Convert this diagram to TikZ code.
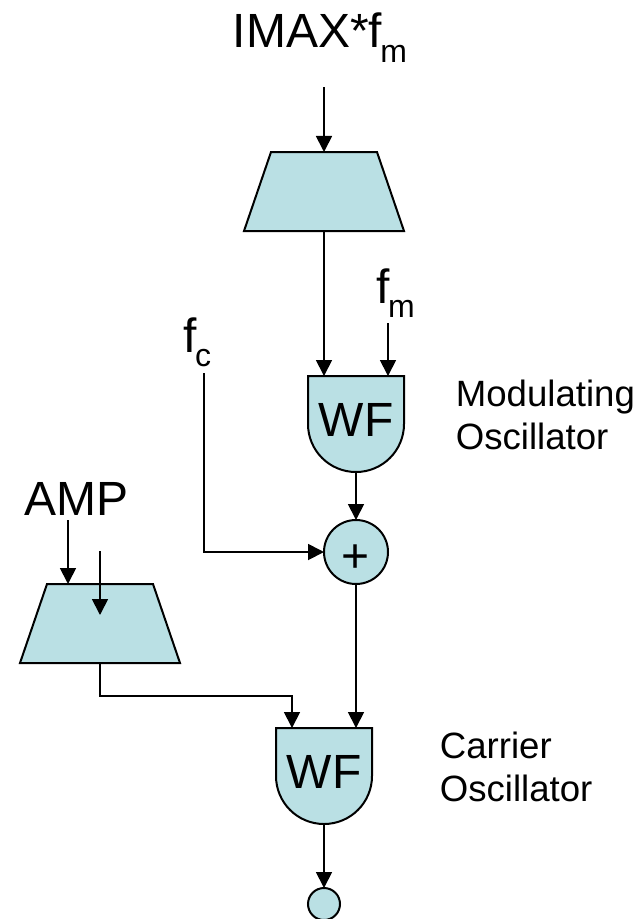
\documentclass[tikz,border=0pt]{standalone}
\usepackage{fontspec}
\setmainfont{Liberation Sans}
\usetikzlibrary{positioning,arrows.meta,shapes.geometric,backgrounds}
\definecolor{unitblue}{HTML}{BAE0E4}
\newcommand{\lowm}[2]{\kern-2pt\raisebox{#1}{\fontsize{32}{32}\selectfont #2}}

\begin{document}
\begin{tikzpicture}
[x=1pt,y=-1pt,line width=1.8pt,
sig/.style={-{Triangle[length=16pt,width=16pt]}},
big/.style={font=\fontsize{48}{48}\selectfont,inner sep=0pt},
small/.style={font=\fontsize{36.6}{43}\selectfont,inner sep=0pt,align=left},
scaler/.style={draw,line width=2pt,fill=unitblue,trapezium,trapezium left angle=75.7,trapezium right angle=75.7,
  minimum width=160pt,minimum height=79pt,inner sep=1pt,outer sep=0pt,trapezium stretches=true},
wavebox/.style={big,minimum width=96pt,minimum height=96pt,outer sep=0pt,text depth=8pt},
waveshape/.style={draw,fill=unitblue,line width=2pt},
dot/.style={draw,line width=2pt,fill=unitblue,circle,inner sep=0pt,outer sep=0pt}]
\useasboundingbox (0,0) rectangle (644,919);
\node[scaler](modscale) at (324,191.5){};
\node[wavebox, below = 145pt of modscale, xshift=32pt](modwave){WF};
\node[dot,big,minimum size=64pt,text height=41pt,text depth=0pt, below = 48pt of modwave](plus){+};
\node[wavebox, below = 144pt of plus, xshift=-32pt](carwave){WF};
\node[dot,minimum size=32pt, below = 64pt of carwave](out){};
\node[scaler](ampscale) at (100,623.5){};
\node[big,anchor=base west](imax) at (232,47){IMAX*f\lowm{-15pt}{m}};
\node[big,anchor=base west](fm) at (376,303){f\lowm{-14pt}{m}};
\node[big,anchor=base west](fc) at (183,352){f\lowm{-14pt}{c}};
\node[big,anchor=base west](amp) at (24,515){AMP};
\node[small,anchor=west](modlabel) at (455,415){Modulating\\Oscillator};
\node[small,anchor=west](carlabel) at (439,767){Carrier\\Oscillator};
\begin{scope}[on background layer]
\draw[waveshape] (modwave.north west) -- (modwave.north east) -- (modwave.east)
  arc[start angle=0,end angle=180,radius=48] -- cycle;
\draw[waveshape] (carwave.north west) -- (carwave.north east) -- (carwave.east)
  arc[start angle=0,end angle=180,radius=48] -- cycle;
\end{scope}
\coordinate (imaxin) at (324,87);
\coordinate (fmin) at (388,323);
\coordinate (fcin) at (204,373);
\coordinate (ampin) at (68,520);
\coordinate (loosein) at (100,551);
\coordinate (looseend) at (100,615);
\draw[sig] (imaxin) -- (modscale.north);
\draw[sig] (modscale.south) -- ([xshift=-32pt]modwave.north);
\draw[sig] (fmin) -- ([xshift=32pt]modwave.north);
\draw[sig] (modwave.south) -- (plus.north);
\draw[sig] (fcin) |- (plus.west);
\draw[sig] (plus.south) -- ([xshift=32pt]carwave.north);
\draw[sig] (ampin) -- ([xshift=-32pt]ampscale.north);
\draw[sig] (loosein) -- (looseend);
\draw[sig] (ampscale.south) -- ++(0,33) -| ([xshift=-32pt]carwave.north);
\draw[sig] (carwave.south) -- (out.north);
\end{tikzpicture}
\end{document}
